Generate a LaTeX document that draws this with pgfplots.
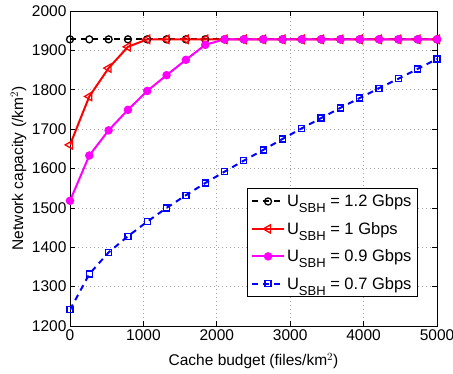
\documentclass[border=0pt]{standalone}
\usepackage{fontspec}
\setmainfont{Liberation Sans}
\usepackage{pgfplots}
\pgfplotsset{compat=1.18}
\definecolor{mag}{rgb}{1,0,1}
\newcommand{\Usbh}{U\raisebox{-0.36em}{\fontsize{13}{13}\selectfont SBH}}
\begin{document}
\begin{tikzpicture}
\begin{axis}[
  name=ax,
  scale only axis, width=367pt, height=315pt,
  xmin=0, xmax=5000, ymin=1200, ymax=2000,
  xtick={0,1000,...,5000}, ytick={1200,1300,...,2000},
  /pgf/number format/1000 sep={},
  /pgf/number format/assume math mode=true,
  ticklabel style={font=\fontsize{15.5}{17}\selectfont},
  label style={font=\fontsize{15.5}{17}\selectfont},
  tick align=inside, major tick length=5pt,
  xtick pos=both, ytick pos=both,
  grid=major,
  major grid style={gray!70, dash pattern=on 1pt off 3pt, line width=0.7pt},
  axis line style={line width=0.9pt},
  tick style={black, line width=0.7pt},
  xlabel={Cache budget (files/km$^2$)},
  ylabel={Network capacity (/km$^2$)},
  xlabel style={at={(axis description cs:0.5,-0.127)}, anchor=base},
  ylabel style={at={(axis description cs:-0.128,0.5)}, anchor=base},
  legend style={at={(0.948,0.092)}, anchor=south east, draw=black, line width=0.9pt,
    font=\fontsize{16.5}{18}\selectfont, row sep=10pt, inner xsep=4pt, inner ysep=4pt,
    nodes={inner sep=2pt}},
  legend cell align=left,
  legend image code/.code={\draw[mark repeat=2,mark phase=2] plot coordinates {(0pt,0pt)(16pt,0pt)(32pt,0pt)};},
  legend image post style={line width=2pt},
]
\addplot[black, line width=2pt, dash pattern=on 6pt off 5pt, mark=o, mark size=3.5pt,
  mark options={solid, line width=1.3pt}]
coordinates {
(0,1928)(263.16,1928)(526.32,1928)(789.47,1928)(1052.63,1928)(1315.79,1928)(1578.95,1928)(1842.11,1928)(2105.26,1928)(2368.42,1928)(2631.58,1928)(2894.74,1928)(3157.89,1928)(3421.05,1928)(3684.21,1928)(3947.37,1928)(4210.53,1928)(4473.68,1928)(4736.84,1928)(5000,1928)};
\addlegendentry{\Usbh\ = 1.2 Gbps}
\addplot[red, line width=2pt, mark=triangle, mark size=4.8pt,
  mark options={solid, rotate=90, line width=1.3pt}]
coordinates {
(0,1660)(263.16,1783)(526.32,1855)(789.47,1909)(1052.63,1928)(1315.79,1928)(1578.95,1928)(1842.11,1928)(2105.26,1928)(2368.42,1928)(2631.58,1928)(2894.74,1928)(3157.89,1928)(3421.05,1928)(3684.21,1928)(3947.37,1928)(4210.53,1928)(4473.68,1928)(4736.84,1928)(5000,1928)};
\addlegendentry{\Usbh\ = 1 Gbps}
\addplot[mag, line width=2pt, mark=*, mark size=3.2pt, mark options={solid, fill=mag}]
coordinates {
(0,1518)(263.16,1633)(526.32,1697)(789.47,1749)(1052.63,1797)(1315.79,1837)(1578.95,1876)(1842.11,1914)(2105.26,1928)(2368.42,1928)(2631.58,1928)(2894.74,1928)(3157.89,1928)(3421.05,1928)(3684.21,1928)(3947.37,1928)(4210.53,1928)(4473.68,1928)(4736.84,1928)(5000,1928)};
\addlegendentry{\Usbh\ = 0.9 Gbps}
\addplot[blue, line width=2pt, dash pattern=on 6pt off 5pt, mark=square, mark size=3pt,
  mark options={solid, line width=1.3pt}]
coordinates {
(0,1241)(263.16,1332)(526.32,1387)(789.47,1428)(1052.63,1465)(1315.79,1500)(1578.95,1532)(1842.11,1563)(2105.26,1592)(2368.42,1620)(2631.58,1647)(2894.74,1675)(3157.89,1702)(3421.05,1728)(3684.21,1754)(3947.37,1779)(4210.53,1804)(4473.68,1828)(4736.84,1853)(5000,1878)};
\addlegendentry{\Usbh\ = 0.7 Gbps}
\end{axis}
\pgfresetboundingbox
\useasboundingbox ([shift={(-70pt,-48pt)}]ax.south west) rectangle ([shift={(16pt,11pt)}]ax.north east);
\end{tikzpicture}
\end{document}
